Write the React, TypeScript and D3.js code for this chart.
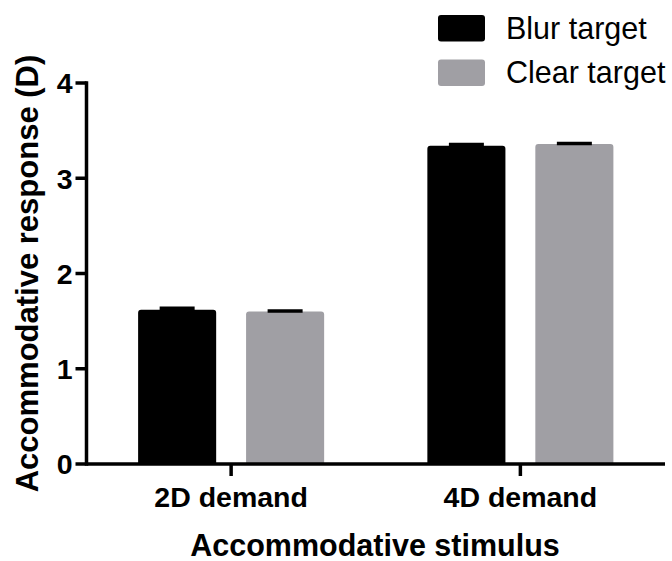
import React from "react";
import * as d3 from "d3";

const categories = ["2D demand", "4D demand"];
const seriesNames = ["Blur target", "Clear target"];
const blurValues = [1.62, 3.34];
const clearValues = [1.6, 3.36];
const blurErrors = [0.015, 0.015];
const clearErrors = [0.005, 0.005];
const yTicks = [0, 1, 2, 3, 4];
const seriesColors = ["#000000", "#a09fa4"];

const W = 672;
const H = 561;
const FONT = "'Liberation Sans', Arial, Helvetica, sans-serif";

export default function App() {
  const axisX = 86.5;
  const axisRight = 665;
  const y0 = 464;
  const yTop = 83;

  const x = d3.scaleBand<string>().domain(categories).range([axisX, axisRight]).padding(0);
  const inner = d3
    .scaleBand<string>()
    .domain(seriesNames)
    .range([0, x.bandwidth()])
    .paddingInner(0.277)
    .paddingOuter(0.478);
  const y = d3.scaleLinear().domain([0, 4]).range([y0, yTop]);

  const series = [
    { name: seriesNames[0], values: blurValues, errors: blurErrors, color: seriesColors[0] },
    { name: seriesNames[1], values: clearValues, errors: clearErrors, color: seriesColors[1] },
  ];

  const barPath = (x0: number, w: number, top: number, bottom: number) => {
    const r = 3;
    const p = d3.path();
    p.moveTo(x0, bottom);
    p.lineTo(x0, top + r);
    p.quadraticCurveTo(x0, top, x0 + r, top);
    p.lineTo(x0 + w - r, top);
    p.quadraticCurveTo(x0 + w, top, x0 + w, top + r);
    p.lineTo(x0 + w, bottom);
    p.closePath();
    return p.toString();
  };

  const capW = 35;

  return (
    <svg
      width={W}
      height={H}
      style={{ position: "absolute", left: 0, top: 0, background: "#fff" }}
      fontFamily={FONT}
    >
      <rect x={0} y={0} width={W} height={H} fill="#fff" />
      {series.map((s) =>
        categories.map((c, i) => {
          const bx = (x(c) as number) + (inner(s.name) as number);
          const bw = inner.bandwidth();
          const cx = bx + bw / 2;
          const top = y(s.values[i]);
          const et = y(s.values[i] + s.errors[i]);
          return (
            <g key={s.name + c}>
              <path d={barPath(bx, bw, top, y0)} fill={s.color} />
              <line x1={cx} x2={cx} y1={top} y2={et} stroke="#000" strokeWidth={3} />
              <line x1={cx - capW / 2} x2={cx + capW / 2} y1={et} y2={et} stroke="#000" strokeWidth={3.5} />
            </g>
          );
        })
      )}
      <line x1={axisX} x2={axisX} y1={y(4) - 1.75} y2={y0 + 1.75} stroke="#000" strokeWidth={3.5} />
      {yTicks.map((t) => (
        <g key={t}>
          <line x1={axisX - 11} x2={axisX} y1={y(t)} y2={y(t)} stroke="#000" strokeWidth={3.5} />
          <text
            x={axisX - 14}
            y={y(t)}
            dy="0.36em"
            textAnchor="end"
            fontSize={28.5}
            fontWeight="bold"
            fill="#000"
          >
            {t}
          </text>
        </g>
      ))}
      <line x1={axisX} x2={axisRight} y1={y0} y2={y0} stroke="#000" strokeWidth={3.5} />
      {categories.map((c) => {
        const cx = (x(c) as number) + x.bandwidth() / 2;
        return (
          <g key={c}>
            <line x1={cx} x2={cx} y1={y0} y2={y0 + 12} stroke="#000" strokeWidth={3.5} />
            <text x={cx} y={507} textAnchor="middle" fontSize={28.5} fontWeight="bold" fill="#000">
              {c}
            </text>
          </g>
        );
      })}
      <text x={375} y={556} textAnchor="middle" fontSize={30.5} fontWeight="bold" fill="#000">
        Accommodative stimulus
      </text>
      <text
        transform={`translate(38,${(y0 + yTop) / 2}) rotate(-90)`}
        textAnchor="middle"
        fontSize={31}
        fontWeight="bold"
        fill="#000"
      >
        Accommodative response (D)
      </text>
      {series.map((s, i) => (
        <g key={s.name}>
          <rect x={438} y={15 + i * 44.5} width={47} height={26.5} rx={3} fill={s.color} />
          <text x={506} y={38.5 + i * 44.5} fontSize={30.5} fill="#000">
            {s.name}
          </text>
        </g>
      ))}
    </svg>
  );
}
